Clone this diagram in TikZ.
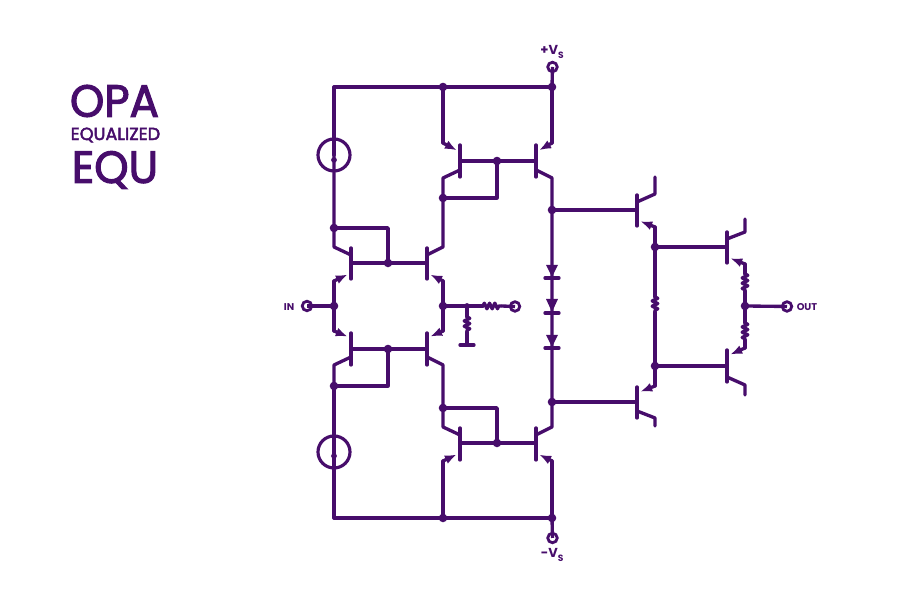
\documentclass[tikz,border=0pt]{standalone}
\usepackage{fontspec}
\setmainfont{Poppins}
\newfontfamily\titlefont[FakeBold=2.6]{Poppins}
\usepackage{tkz-euclide}
\usetikzlibrary{arrows.meta,decorations.pathmorphing}
\definecolor{WireClr}{rgb}{0.28,0.05,0.42}
\tikzset{
  emitter/.style={-{Latex[length=3.4pt,width=2.6pt]},shorten >=1pt},
  resistor/.style={decorate,decoration={zigzag,amplitude=.8pt,segment length=1.5pt}},
  terminal/.style={circle,draw=WireClr,line width=.8pt,fill=white,minimum size=.95mm,inner sep=0pt},
  source/.style={circle,draw=WireClr,line width=.9pt,minimum size=3.2mm,inner sep=0pt},
  label/.style={text=WireClr,font=\bfseries\fontsize{3.7}{4}\selectfont,inner sep=0pt},
  title/.style={text=WireClr,inner sep=0pt}
}

\begin{document}
\begin{tikzpicture}[x=.1mm,y=-.1mm]
\useasboundingbox (0,0) rectangle (922,607);
\tkzSetUpLine[line width=.95pt,color=WireClr,line cap=round,line join=round]
\tkzSetUpPoint[fill=WireClr,color=WireClr]

% transistors
\tkzDefPoints{351/248/Q1t,351/279/Q1b,351/255/Q1c,334/247/Q1C,351/273/Q1e,334/281/Q1E}
\tkzDefPoints{427/248/Q2t,427/279/Q2b,427/255/Q2c,443/247/Q2C,427/273/Q2e,443/281/Q2E}
\tkzDefPoints{351/333/Q3t,351/365/Q3b,351/357/Q3c,334/365/Q3C,351/338/Q3e,334/331/Q3E}
\tkzDefPoints{427/333/Q4t,427/365/Q4b,427/357/Q4c,443/365/Q4C,427/338/Q4e,443/331/Q4E}
\tkzDefPoints{460/145/Q5t,460/177/Q5b,460/170/Q5c,443/178/Q5C,460/152/Q5e,443/143/Q5E}
\tkzDefPoints{536/145/Q6t,536/177/Q6b,536/170/Q6c,552/178/Q6C,536/152/Q6e,552/143/Q6E}
\tkzDefPoints{460/428/Q7t,460/460/Q7b,460/435/Q7c,443/427/Q7C,460/453/Q7e,443/461/Q7E}
\tkzDefPoints{536/428/Q8t,536/460/Q8b,536/435/Q8c,552/427/Q8C,536/453/Q8e,552/461/Q8E}
\tkzDefPoints{637/195/Q9t,637/226/Q9b,637/202/Q9c,655/194/Q9C,637/220/Q9e,655/227/Q9E,655/177/Q9x}
\tkzDefPoints{637/387/Qat,637/418/Qab,637/411/Qac,655/418/QaC,637/393/Qae,655/386/QaE,655/426/Qax}
\tkzDefPoints{727/232/Qbt,727/263/Qbb,727/239/Qbc,745/232/QbC,727/257/Qbe,745/264/QbE,745/219/Qbx}
\tkzDefPoints{727/350/Qct,727/382/Qcb,727/377/Qcc,745/385/QcC,727/356/Qce,745/348/QcE,745/395/Qcx}
% junctions
\tkzDefPoints{334/87/TL,443/87/T1,552/87/T2,334/518/BL,443/518/B1,552/518/B2}
\tkzDefPoints{334/228/N1,388/228/N1a,388/263/N2,351/263/Q1B,427/263/Q2B}
\tkzDefPoints{334/386/N3,388/386/N3a,388/349/N4,351/349/Q3B,427/349/Q4B}
\tkzDefPoints{334/306/NI,443/306/NO,467/306/NF,483/306/Ra,501/306/Rb}
\tkzDefPoints{467/317/Rc,467/332/Rd,467/345/G,460/345/Ga,474/345/Gb}
\tkzDefPoints{443/198/N5,497/198/N5a,497/161/N6,460/161/Q5B,536/161/Q6B}
\tkzDefPoints{443/408/N7,497/408/N7a,497/443/N8,460/443/Q7B,536/443/Q8B}
\tkzDefPoints{552/210/N9,637/210/Q9B,552/402/Na,637/402/QaB}
\tkzDefPoints{655/247/Nb,727/247/QbB,655/366/Nc,727/366/QcB,655/297/Re,655/312/Rf}
\tkzDefPoints{745/274/Rg,745/291/Rh,745/323/Ri,745/340/Rj,745/306/No}
% inner arrows of the sources
\tkzDefPoints{334/147/S1a,334/160/S1b,334/441/S2a,334/456/S2b,334/463/S2c}
% diodes
\tkzDefPoints{546/265/D1a,558/265/D1b,552/277/D1c,545/278/D1d,559/278/D1e}
\tkzDefPoints{546/299/D2a,558/299/D2b,552/312/D2c,545/313/D2d,559/313/D2e}
\tkzDefPoints{546/335/D3a,558/335/D3b,552/347/D3c,545/348/D3d,559/348/D3e}

\node[terminal] (VP) at (552.5,67) {};
\node[terminal] (VM) at (552.5,538) {};
\node[terminal] (IN) at (307,306) {};
\node[terminal] (FB) at (515,306.5) {};
\node[terminal] (OUT) at (787,306.5) {};
\node[source] (CS1) at (334,155) {};
\node[source] (CS2) at (334,452) {};

\node[title,font=\titlefont\fontsize{12.8}{13}\selectfont,xscale=.97] (OPA) at (114.5,101) {OPA};
\node[title,font=\titlefont\fontsize{5}{6}\selectfont,xscale=1] (EQL) at (115.5,135) {EQUALIZED};
\node[title,font=\titlefont\fontsize{12.8}{13}\selectfont,xscale=.97] (EQU) at (115,170) {EQU};
\node[label] (lVP) at (553,52) {+V\textsubscript{S}};
\node[label] (lVM) at (553,555) {-V\textsubscript{S}};
\node[label,font=\bfseries\fontsize{2.8}{3}\selectfont] (lIN) at (289,307) {IN};
\node[label,font=\bfseries\fontsize{2.8}{3}\selectfont] (lOUT) at (807,307) {OUT};

\tkzDrawSegments(TL,T2 BL,B2)
\tkzDrawSegments(Q1t,Q1b Q2t,Q2b Q3t,Q3b Q4t,Q4b Q5t,Q5b Q6t,Q6b Q7t,Q7b Q8t,Q8b)
\tkzDrawSegments(Q9t,Q9b Qat,Qab Qbt,Qbb Qct,Qcb Q1B,Q2B Q3B,Q4B Q5B,Q6B Q7B,Q8B)
\tkzDrawSegments(Q9B,N9 QaB,Na QbB,Nb QcB,Nc NO,Ra Ga,Gb)
\tkzDrawSegments[line cap=butt](IN,NI Rb,FB No,OUT T2,VP B2,VM)
\tkzDrawSegments[emitter](Q1E,Q1e Q2E,Q2e Q3E,Q3e Q4E,Q4e Q5E,Q5e Q6E,Q6e Q7E,Q7e Q8E,Q8e)
\tkzDrawSegments[emitter](Q9E,Q9e QaE,Qae QbE,Qbe QcE,Qce)
\tkzDrawPolySeg(N1,N1a,N2)
\tkzDrawPolySeg(N3,N3a,N4)
\tkzDrawPolySeg(N5,N5a,N6)
\tkzDrawPolySeg(N7,N7a,N8)
\tkzDrawPolySeg(Q1c,Q1C,N1,S1a)
\tkzDrawPolySeg(Q1E,NI,Q3E)
\tkzDrawPolySeg(Q3c,Q3C,N3)
\tkzDrawPolySeg(Q2c,Q2C,N5,Q5C,Q5c)
\tkzDrawPolySeg(Q2E,NO,Q4E)
\tkzDrawPolySeg(Q4c,Q4C,N7,Q7C,Q7c)
\tkzDrawPolySeg(T1,Q5E)
\tkzDrawPolySeg(T2,Q6E)
\tkzDrawPolySeg(B1,Q7E)
\tkzDrawPolySeg(B2,Q8E)
\tkzDrawPolySeg(Q6c,Q6C,N9,Na,Q8C,Q8c)
\tkzDrawPolySeg(Q9c,Q9C,Q9x)
\tkzDrawPolySeg(Qac,QaC,Qax)
\tkzDrawPolySeg(Qbc,QbC,Qbx)
\tkzDrawPolySeg(Qcc,QcC,Qcx)
\tkzDrawPolySeg(Q9E,Nb,Re)
\tkzDrawPolySeg(Rf,Nc,QaE)
\tkzDrawPolySeg(QbE,Rg)
\tkzDrawPolySeg(Rh,Ri)
\tkzDrawPolySeg(Rj,QcE)
\tkzDrawPolySeg(NF,Rc)
\tkzDrawPolySeg(Rd,G)
\tkzDrawSegments[resistor](Ra,Rb Rc,Rd Re,Rf Rg,Rh Ri,Rj)
\tkzDrawSegments(TL,CS1 N3,CS2 CS2,BL S2a,S2c)

\tkzFillPolygon[fill=WireClr](D1a,D1b,D1c)
\tkzFillPolygon[fill=WireClr](D2a,D2b,D2c)
\tkzFillPolygon[fill=WireClr](D3a,D3b,D3c)
\tkzDrawSegments(D1d,D1e D2d,D2e D3d,D3e)

\tkzDrawPoints[size=2](T1,T2,B1,B2,N1,N2,N3,N4,N5,N6,N7,N8,N9,Na,Nb,Nc,NI,NO,No)
\tkzDrawPoints[size=1.2](NF,S1b,S2b)

\end{tikzpicture}
\end{document}
